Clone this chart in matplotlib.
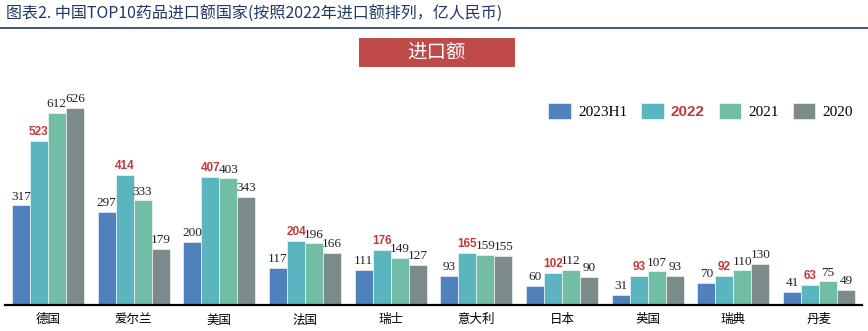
import numpy as np
import matplotlib.pyplot as plt
from matplotlib.patches import Rectangle

# data
countries = ["德国", "爱尔兰", "美国", "法国", "瑞士", "意大利", "日本", "英国", "瑞典", "丹麦"]
series_names = ["2023H1", "2022", "2021", "2020"]
v2023h1 = [317, 297, 200, 117, 111, 93, 60, 31, 70, 41]
v2022 = [523, 414, 407, 204, 176, 165, 102, 93, 92, 63]
v2021 = [612, 333, 403, 196, 149, 159, 112, 107, 110, 75]
v2020 = [626, 179, 343, 166, 127, 155, 90, 93, 130, 49]

colors = ["#4F81BD", "#5AB5C1", "#72BDA6", "#7B8B8C"]
red = "#C0393B"

plt.rcParams["font.family"] = ["Liberation Serif", "Noto Sans CJK SC"]

fig = plt.figure(figsize=(8.68, 3.31), dpi=100)
W, H = 868, 331

# title and rule
fig.text(6 / W, 1 - 14 / H, "图表2. 中国TOP10药品进口额国家(按照2022年进口额排列，亿人民币)",
         family=["Noto Sans CJK SC"], fontsize=11.5, color="#1F3864", va="center", ha="left")
fig.add_artist(plt.Line2D([0, 1], [1 - 28 / H, 1 - 28 / H], color="#1F3864", lw=1.2))

# red header box
fig.add_artist(Rectangle((359 / W, 1 - 67 / H), 156 / W, 29 / H,
                         transform=fig.transFigure, fc="#BE4B48", ec="none"))
fig.text(437 / W, 1 - 52.5 / H, "进口额", family=["Noto Sans CJK SC"], fontsize=14,
         color="white", ha="center", va="center")

ax = fig.add_axes([5 / W, 1 - 305 / H, 857 / W, 220 / H])

x = np.arange(len(countries))
w = 0.21
all_vals = [v2023h1, v2022, v2021, v2020]
for i, (name, vals) in enumerate(zip(series_names, all_vals)):
    pos = x + (i - 1.5) * w
    ax.bar(pos, vals, w, color=colors[i], edgecolor="white", linewidth=0.4, label=name)
    for px, v in zip(pos, vals):
        if i == 1:
            ax.text(px, v + 9, str(v), ha="center", va="bottom", fontsize=8.5,
                    color=red, fontweight="bold", family=["Liberation Sans"])
        else:
            ax.text(px, v + 9, str(v), ha="center", va="bottom", fontsize=9.5,
                    color="#222222")

ax.set_xlim(-0.5, len(countries) - 0.5)
ax.set_ylim(0, 700)
ax.set_xticks(x)
ax.set_xticklabels(countries, family=["Noto Sans CJK SC"], fontsize=9)
ax.tick_params(axis="x", length=0, pad=6)
ax.set_yticks([])
for s in ["top", "right", "left"]:
    ax.spines[s].set_visible(False)
ax.spines["bottom"].set_linewidth(1.6)
ax.spines["bottom"].set_color("black")

leg = ax.legend(loc="upper right", bbox_to_anchor=(1.0, 0.96), ncol=4, frameon=False,
                fontsize=11, handlelength=1.5, handleheight=1.2, columnspacing=0.9,
                handletextpad=0.45, borderaxespad=0.2)
for t in leg.get_texts():
    if t.get_text() == "2022":
        t.set_color(red)
        t.set_fontweight("bold")
        t.set_family(["Liberation Sans"])

fig.savefig("out.png", dpi=100)
